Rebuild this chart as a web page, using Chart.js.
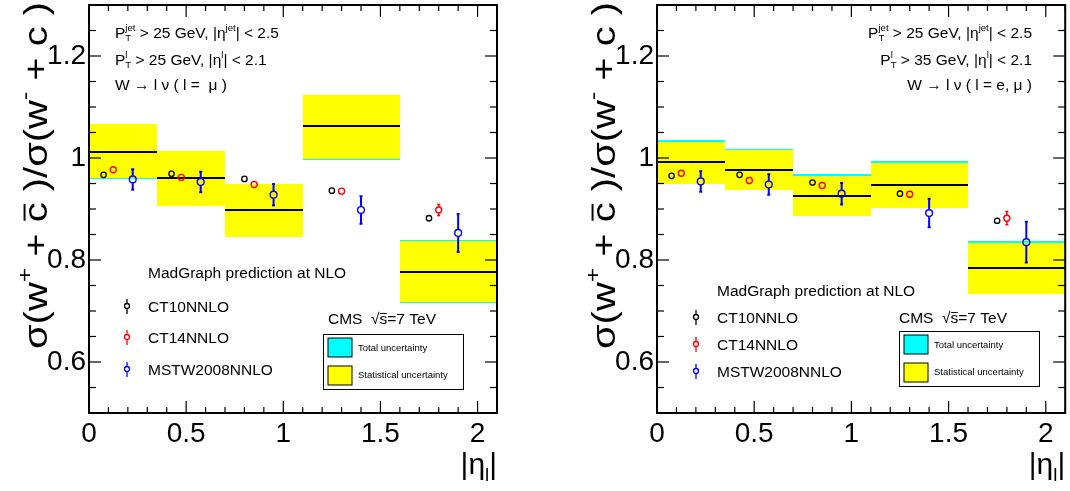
<!DOCTYPE html>
<html lang="en">
<head>
<meta charset="UTF-8">
<title>W+c charge ratio vs lepton |eta|</title>
<script src="https://cdn.jsdelivr.net/npm/chart.js"></script>
<style>
  body { margin: 0; background: #fff; }
  .panel { position: absolute; top: 0; width: 535px; height: 491px; }
</style>
</head>
<body>
<div class="panel" style="left:0"><canvas id="muChart" width="535" height="491"></canvas></div>
<div class="panel" style="left:535px"><canvas id="combChart" width="535" height="491"></canvas></div>

<script>
// |eta_l| bins
const binLo = [0, 0.35, 0.7, 1.1, 1.6];
const binHi = [0.35, 0.7, 1.1, 1.6, 2.1];
const xTicks = [0, 0.5, 1, 1.5, 2];
const yTicks = [0.6, 0.8, 1, 1.2];

// theory points sit at fixed offsets inside each bin
const ct10X = [0.075, 0.425, 0.8, 1.25, 1.75];
const ct14X = [0.125, 0.475, 0.85, 1.3, 1.8];
const mstwX = [0.225, 0.575, 0.95, 1.4, 1.9];

// left panel: muon channel
const muCentral = [1.012, 0.960, 0.898, 1.063, 0.777];
const muStatLo  = [0.960, 0.906, 0.846, 0.999, 0.718];
const muStatHi  = [1.066, 1.013, 0.949, 1.123, 0.837];
const muTotLo   = [0.958, 0.906, 0.846, 0.997, 0.715];
const muTotHi   = [1.066, 1.013, 0.949, 1.123, 0.840];
const ct10Mu    = [0.967, 0.969, 0.959, 0.936, 0.882];
const ct10MuErr = [0.003, 0.003, 0.003, 0.003, 0.006];
const ct14Mu    = [0.977, 0.962, 0.948, 0.935, 0.898];
const ct14MuErr = [0.004, 0.004, 0.004, 0.006, 0.011];
const mstwMu    = [0.958, 0.953, 0.928, 0.898, 0.853];
const mstwMuErr = [0.020, 0.020, 0.021, 0.027, 0.037];

// right panel: e + mu combined
const combCentral = [0.992, 0.977, 0.926, 0.948, 0.785];
const combStatLo  = [0.950, 0.937, 0.886, 0.901, 0.733];
const combStatHi  = [1.032, 1.015, 0.965, 0.991, 0.834];
const combTotLo   = [0.950, 0.937, 0.886, 0.901, 0.733];
const combTotHi   = [1.035, 1.018, 0.968, 0.994, 0.837];
const ct10Comb    = [0.965, 0.967, 0.952, 0.930, 0.877];
const ct10CombErr = [0.003, 0.003, 0.003, 0.004, 0.006];
const ct14Comb    = [0.970, 0.956, 0.946, 0.929, 0.882];
const ct14CombErr = [0.004, 0.004, 0.004, 0.006, 0.013];
const mstwComb    = [0.954, 0.948, 0.930, 0.892, 0.835];
const mstwCombErr = [0.020, 0.020, 0.021, 0.028, 0.040];

const FAMILY = '"Liberation Sans", Arial, Helvetica, sans-serif';
const font = s => s + 'px ' + FAMILY;

// text with sub/superscripts, ROOT TLatex style
function drawRich(ctx, x, y, parts, size, align) {
  const small = size * 0.62;
  const widthOf = p => {
    if (p.t !== undefined) { ctx.font = font(size); return ctx.measureText(p.t).width; }
    ctx.font = font(small);
    return Math.max(p.sub ? ctx.measureText(p.sub).width : 0, p.sup ? ctx.measureText(p.sup).width : 0);
  };
  const total = parts.reduce((s, p) => s + widthOf(p), 0);
  let cx = align === 'right' ? x - total : (align === 'center' ? x - total / 2 : x);
  ctx.textAlign = 'left';
  ctx.textBaseline = 'alphabetic';
  for (const p of parts) {
    const w = widthOf(p);
    if (p.t !== undefined) {
      ctx.font = font(size);
      ctx.fillText(p.t, cx, y);
      if (p.bar) {
        ctx.save();
        ctx.strokeStyle = ctx.fillStyle;
        ctx.lineWidth = Math.max(1, size * 0.06);
        ctx.beginPath();
        ctx.moveTo(cx + w * 0.08, y - size * 0.68);
        ctx.lineTo(cx + w * 0.92, y - size * 0.68);
        ctx.stroke();
        ctx.restore();
      }
    } else {
      ctx.font = font(small);
      if (p.sup) ctx.fillText(p.sup, cx, y - size * 0.45);
      if (p.sub) ctx.fillText(p.sub, cx, y + size * 0.22);
    }
    cx += w;
  }
}

function line(ctx, x1, y1, x2, y2) {
  ctx.beginPath();
  ctx.moveTo(x1, y1);
  ctx.lineTo(x2, y2);
  ctx.stroke();
}

const yTitle = [{t: 'σ(w'}, {sup: '+'}, {t: ' + '}, {t: 'c', bar: true}, {t: ' )/σ(w'}, {sup: '-'}, {t: ' + c )'}];
const xTitle = [{t: '|η'}, {sub: 'l'}, {t: '|'}];

function rootStyle(p) {
  return {
    id: 'rootStyle',
    beforeDatasetsDraw(chart) {
      const {ctx, chartArea: a, scales: {x, y}} = chart;
      const px = v => Math.round(x.getPixelForValue(v));
      const py = v => Math.round(y.getPixelForValue(v));
      ctx.save();
      ctx.beginPath();
      ctx.rect(a.left, a.top, a.right - a.left, a.bottom - a.top);
      ctx.clip();
      // measurement boxes: total (cyan) under statistical (yellow)
      for (let i = 0; i < binLo.length; i++) {
        const x0 = px(binLo[i]), x1 = px(binHi[i]);
        ctx.fillStyle = '#00ffff';
        ctx.fillRect(x0, py(p.totHi[i]), x1 - x0, py(p.totLo[i]) - py(p.totHi[i]));
        ctx.fillStyle = '#ffff00';
        ctx.fillRect(x0, py(p.statHi[i]), x1 - x0, py(p.statLo[i]) - py(p.statHi[i]));
        ctx.strokeStyle = '#000';
        ctx.lineWidth = 2;
        const yc = py(p.central[i]);
        line(ctx, x0, yc, x1, yc);
      }
      // theory error bars, with a gap for the open marker
      chart.data.datasets.forEach(ds => {
        ctx.strokeStyle = ds.borderColor;
        ctx.lineWidth = ds.errWidth;
        ds.data.forEach((pt, i) => {
          const cx = x.getPixelForValue(pt.x);
          const yc = y.getPixelForValue(pt.y);
          const yt = y.getPixelForValue(pt.y + ds.err[i]);
          const yb = y.getPixelForValue(pt.y - ds.err[i]);
          const r = ds.pointRadius;
          if (yt < yc - r) line(ctx, cx, yt, cx, yc - r);
          if (yb > yc + r) line(ctx, cx, yc + r, cx, yb);
          if (yb - yt > 2 * r + 4) {
            line(ctx, cx - 1.5, yt, cx + 1.5, yt);
            line(ctx, cx - 1.5, yb, cx + 1.5, yb);
          }
        });
      });
      ctx.restore();
    },
    afterDraw(chart) {
      const {ctx, chartArea: a, scales: {x, y}} = chart;
      ctx.save();
      ctx.strokeStyle = '#000';
      ctx.fillStyle = '#000';
      // frame
      ctx.lineWidth = 2;
      ctx.strokeRect(a.left, a.top, a.right - a.left, a.bottom - a.top);
      // inward ticks on all four sides
      ctx.lineWidth = 1.2;
      for (let i = 0; i <= 21; i++) {
        const v = i / 10;
        const tx = x.getPixelForValue(v);
        const len = i % 5 === 0 ? 12 : 6;
        line(ctx, tx, a.bottom, tx, a.bottom - len);
        line(ctx, tx, a.top, tx, a.top + len);
      }
      for (let i = 0; i <= 16; i++) {
        const v = 0.5 + i * 0.05;
        const ty = y.getPixelForValue(v);
        const len = (i + 2) % 4 === 0 ? 12 : 7;
        line(ctx, a.left, ty, a.left + len, ty);
        line(ctx, a.right, ty, a.right - len, ty);
      }
      // axis titles
      drawRich(ctx, a.right, 474, xTitle, 30, 'right');
      ctx.save();
      ctx.translate(p.titleX, a.top - 3);
      ctx.rotate(-Math.PI / 2);
      ctx.scale(1.21, 1);
      drawRich(ctx, 0, 0, yTitle, 33, 'right');
      ctx.restore();
      // selection cuts
      p.cuts.forEach((c, k) => drawRich(ctx, p.cutX, p.cutY[k], c, 15.5, p.cutAlign));
      // theory legend
      ctx.font = font(15.5);
      ctx.textAlign = 'left';
      ctx.fillText('MadGraph prediction at NLO', p.legX, p.legY[0]);
      chart.data.datasets.forEach((ds, k) => {
        const by = p.legY[k + 1];
        ctx.fillStyle = '#000';
        ctx.font = font(15.5);
        ctx.fillText(ds.label, p.legX, by);
        ctx.strokeStyle = ds.borderColor;
        ctx.lineWidth = 1.3;
        const cy = by - 6;
        line(ctx, p.markX, by - 13, p.markX, cy - 2.5);
        line(ctx, p.markX, cy + 2.5, p.markX, by + 2);
        ctx.beginPath();
        ctx.arc(p.markX, cy, 2.5, 0, Math.PI * 2);
        ctx.stroke();
      });
      // CMS label
      ctx.fillStyle = '#000';
      drawRich(ctx, p.cmsX, p.cmsY, [{t: 'CMS  √'}, {t: 's', bar: true}, {t: '=7 TeV'}], 15.5, 'left');
      // uncertainty legend box
      const bx = p.boxX, by = p.boxY;
      ctx.strokeStyle = '#000';
      ctx.lineWidth = 1;
      ctx.fillStyle = '#fff';
      ctx.fillRect(bx, by, 140, 55);
      ctx.strokeRect(bx + 0.5, by + 0.5, 140, 55);
      ctx.fillStyle = '#00ffff';
      ctx.fillRect(bx + 5, by + 4, 24, 19);
      ctx.strokeRect(bx + 5, by + 4, 24, 19);
      ctx.fillStyle = '#ffff00';
      ctx.fillRect(bx + 5, by + 32, 24, 19);
      ctx.strokeRect(bx + 5, by + 32, 24, 19);
      ctx.fillStyle = '#000';
      ctx.font = font(9.5);
      ctx.fillText('Total uncertainty', bx + 35, by + 17);
      ctx.fillText('Statistical uncertainty', bx + 35, by + 44);
      ctx.restore();
    }
  };
}

function pts(xs, ys) {
  return xs.map((v, i) => ({x: v, y: ys[i]}));
}

function makeChart(id, p) {
  new Chart(document.getElementById(id), {
    type: 'scatter',
    data: {
      datasets: [
        {label: 'CT10NNLO', data: pts(ct10X, p.ct10), err: p.ct10Err, borderColor: '#000000',
         backgroundColor: 'rgba(0,0,0,0)', pointRadius: 2.7, borderWidth: 1.3, errWidth: 1.5},
        {label: 'CT14NNLO', data: pts(ct14X, p.ct14), err: p.ct14Err, borderColor: '#ff0000',
         backgroundColor: 'rgba(0,0,0,0)', pointRadius: 3, borderWidth: 1.4, errWidth: 1.5},
        {label: 'MSTW2008NNLO', data: pts(mstwX, p.mstw), err: p.mstwErr, borderColor: '#0000ff',
         backgroundColor: 'rgba(0,0,0,0)', pointRadius: 3.4, borderWidth: 1.4, errWidth: 2}
      ]
    },
    options: {
      responsive: false,
      animation: false,
      devicePixelRatio: 1,
      events: [],
      layout: {padding: {left: 0, right: p.padRight, top: 5, bottom: 0}},
      plugins: {legend: {display: false}, tooltip: {enabled: false}},
      elements: {point: {pointStyle: 'circle', hoverRadius: 3}},
      scales: {
        x: {
          type: 'linear', min: 0, max: 2.1,
          grid: {display: false, drawTicks: false},
          border: {display: false},
          afterBuildTicks: s => { s.ticks = xTicks.map(v => ({value: v})); },
          afterFit: s => { s.height = 78; s.paddingLeft = 0; s.paddingRight = 0; },
          ticks: {padding: 4, color: '#000', font: {family: FAMILY, size: 28},
                  maxRotation: 0, autoSkip: false, callback: v => String(v)}
        },
        y: {
          type: 'linear', min: 0.5, max: 1.3,
          grid: {display: false, drawTicks: false},
          border: {display: false},
          afterBuildTicks: s => { s.ticks = yTicks.map(v => ({value: v})); },
          afterFit: s => { s.width = p.axisWidth; s.paddingTop = 0; s.paddingBottom = 0; },
          ticks: {padding: 3, color: '#000', font: {family: FAMILY, size: 28},
                  autoSkip: false, callback: v => String(v)}
        }
      }
    },
    plugins: [rootStyle(p)]
  });
}

makeChart('muChart', {
  central: muCentral, statLo: muStatLo, statHi: muStatHi, totLo: muTotLo, totHi: muTotHi,
  ct10: ct10Mu, ct10Err: ct10MuErr, ct14: ct14Mu, ct14Err: ct14MuErr, mstw: mstwMu, mstwErr: mstwMuErr,
  axisWidth: 89, padRight: 38, titleX: 47,
  cutX: 115, cutY: [37.5, 65, 90], cutAlign: 'left',
  cuts: [
    [{t: 'P'}, {sub: 'T', sup: 'jet'}, {t: ' > 25 GeV, |η'}, {sup: 'jet'}, {t: '| < 2.5'}],
    [{t: 'P'}, {sub: 'T', sup: 'l'}, {t: ' > 25 GeV, |η'}, {sup: 'l'}, {t: '| < 2.1'}],
    [{t: 'W → l ν ( l =  μ )'}]
  ],
  legX: 148, legY: [278, 312, 343, 375], markX: 127,
  cmsX: 328, cmsY: 324, boxX: 323, boxY: 334
});

makeChart('combChart', {
  central: combCentral, statLo: combStatLo, statHi: combStatHi, totLo: combTotLo, totHi: combTotHi,
  ct10: ct10Comb, ct10Err: ct10CombErr, ct14: ct14Comb, ct14Err: ct14CombErr, mstw: mstwComb, mstwErr: mstwCombErr,
  axisWidth: 122, padRight: 3, titleX: 80,
  cutX: 497, cutY: [37.5, 65, 90], cutAlign: 'right',
  cuts: [
    [{t: 'P'}, {sub: 'T', sup: 'jet'}, {t: ' > 25 GeV, |η'}, {sup: 'jet'}, {t: '| < 2.5'}],
    [{t: 'P'}, {sub: 'T', sup: 'l'}, {t: ' > 35 GeV, |η'}, {sup: 'l'}, {t: '| < 2.1'}],
    [{t: 'W → l ν ( l = e, μ )'}]
  ],
  legX: 182, legY: [296, 323, 350, 377], markX: 161,
  cmsX: 364, cmsY: 323, boxX: 364, boxY: 331
});
</script>
</body>
</html>
